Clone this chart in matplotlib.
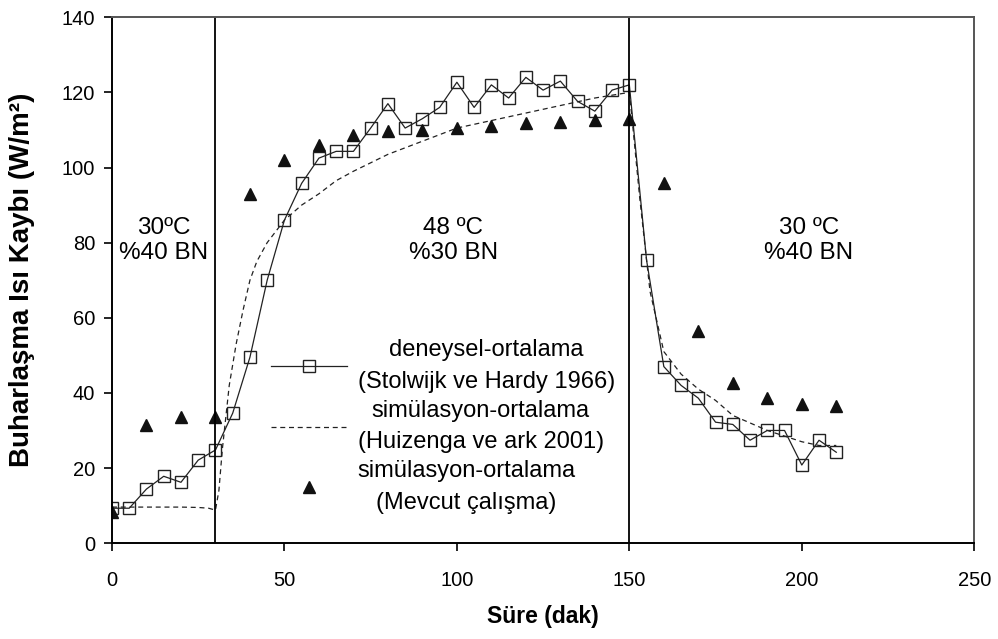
import numpy as np
import matplotlib.pyplot as plt

plt.rcParams['font.family'] = ['Liberation Sans', 'DejaVu Sans']

# deneysel-ortalama (Stolwijk ve Hardy 1966), every 5 min
exp_t = np.arange(0, 211, 5)
exp_q = [9.3, 9.3, 14.4, 17.8, 16.2, 22.1, 24.8, 34.6, 49.5, 70, 86, 95.8, 102.5,
         104.3, 104.3, 110.5, 117, 110.5, 113, 116, 122.7, 116, 122, 118.5, 124,
         120.6, 123, 117.6, 115, 120.6, 122, 75.3, 47, 42, 38.6, 32.2, 31.6, 27.4,
         30, 30, 20.8, 27.4, 24.2]

# simülasyon-ortalama (Huizenga ve ark 2001)
huiz_t = [0, 5, 10, 15, 20, 25, 28, 30, 31, 32, 34, 36, 38, 40, 42, 45, 50, 55, 60,
          65, 70, 80, 90, 100, 110, 120, 130, 140, 150, 151, 153, 156, 160, 165,
          170, 175, 180, 185, 190, 195, 200, 205, 210]
huiz_q = [9.6, 9.6, 9.6, 9.6, 9.6, 9.5, 9.3, 8.8, 14, 25, 42, 53, 62, 70, 75, 80,
          86, 90, 93, 96.5, 99, 103.5, 107, 110.5, 112.5, 114.5, 116.5, 118.5, 120,
          111, 92, 67, 51, 45, 41, 38, 34, 32, 30, 28.5, 27, 26, 26]

# simülasyon-ortalama (Mevcut çalışma), every 10 min
sim_t = np.arange(0, 211, 10)
sim_q = [8.3, 31.4, 33.5, 33.5, 93, 102, 106, 108.6, 109.7, 110, 110.5, 111,
         111.8, 112, 112.6, 113, 96, 56.4, 42.6, 38.6, 37, 36.5]

phase_t = [30, 150]
phase_txt = ['30ºC\n%40 BN', '48 ºC\n%30 BN', '30 ºC\n%40 BN']
phase_pos = [15, 99, 202]

fig = plt.figure(figsize=(9.98, 6.39), dpi=100)
ax = fig.add_axes([0.1122, 0.150, 0.864, 0.823])

ax.plot(exp_t, exp_q, '-', color='#222222', lw=0.9, marker='s', ms=8,
        mfc='none', mec='#222222', mew=1.0,
        label='deneysel-ortalama\n(Stolwijk ve Hardy 1966)')
ax.plot(huiz_t, huiz_q, '--', color='#222222', lw=0.9, dashes=(4, 3),
        label='simülasyon-ortalama\n(Huizenga ve ark 2001)')
ax.plot(sim_t, sim_q, '^', color='#111111', ms=8, ls='none',
        label='simülasyon-ortalama\n(Mevcut çalışma)')

for t in phase_t:
    ax.axvline(t, color='black', lw=1.3)

for x, s in zip(phase_pos, phase_txt):
    ax.text(x, 80.5, s, ha='center', va='center', fontsize=17.5,
            multialignment='center', linespacing=1.15)

ax.set_xlim(0, 250)
ax.set_ylim(0, 140)
ax.set_xticks(np.arange(0, 251, 50))
ax.set_yticks(np.arange(0, 141, 20))
ax.tick_params(direction='out', length=6, width=1.2, labelsize=14.5)
ax.tick_params(axis='x', pad=14)
ax.tick_params(axis='y', pad=6)
for side in ['left', 'bottom']:
    ax.spines[side].set_linewidth(1.4)
    ax.spines[side].set_color('black')
for side in ['top', 'right']:
    ax.spines[side].set_linewidth(1.4)
    ax.spines[side].set_color('#555555')

ax.set_xlabel('Süre (dak)', fontsize=16.5, fontweight='bold', labelpad=11)
ax.set_ylabel('Buharlaşma Isı Kaybı (W/m²)', fontsize=20, fontweight='bold')
ax.yaxis.set_label_coords(-0.089, 0.5)

leg = ax.legend(loc='center', bbox_to_anchor=(0.384, 0.222), frameon=False,
                fontsize=17, handlelength=3.2, handletextpad=0.45,
                labelspacing=0.3, borderpad=0)
for txt in leg.get_texts():
    txt.set_multialignment('center')
    txt.set_linespacing(1.55)

fig.savefig('out.png', dpi=100)
